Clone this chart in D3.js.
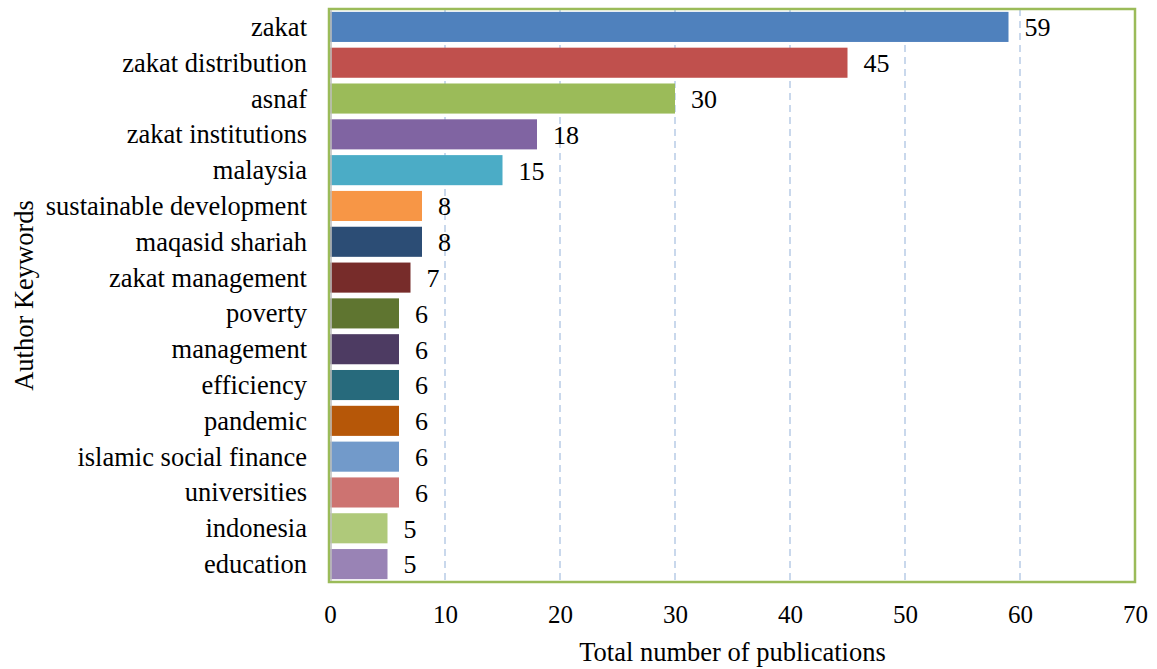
<!DOCTYPE html>
<html><head><meta charset="utf-8">
<script src="https://cdn.jsdelivr.net/npm/d3@7"></script>
<style>body{margin:0;background:#fff;} svg{display:block;}</style>
</head><body>
<svg id="c" width="1157" height="669"></svg>
<script>
const keywords = ["zakat","zakat distribution","asnaf","zakat institutions","malaysia","sustainable development","maqasid shariah","zakat management","poverty","management","efficiency","pandemic","islamic social finance","universities","indonesia","education"];
const counts = [59,45,30,18,15,8,8,7,6,6,6,6,6,6,5,5];
const colors = ["#4F81BD","#C0504D","#9BBB59","#8064A2","#4BACC6","#F79646","#2C4D75","#772C2A","#5F7530","#4D3B62","#276A7C","#B65708","#729ACA","#CD7371","#AFC97A","#9983B5"];
const xTicks = [0,10,20,30,40,50,60,70];

const svg = d3.select("#c");
const font = "'Liberation Serif','Times New Roman',serif";
const L = 330, R = 1135, T = 9, B = 582;
const x = d3.scaleLinear().domain([0,70]).range([L,R]);
const y = d3.scaleBand().domain(keywords).range([T,B]).paddingInner(0.16).paddingOuter(0.08);

// gridlines
svg.append("g").selectAll("line").data(xTicks.filter(t=>t>0&&t<70)).join("line")
  .attr("x1",d=>x(d)).attr("x2",d=>x(d)).attr("y1",T).attr("y2",B)
  .attr("stroke","#B8CCE6").attr("stroke-width",1.5).attr("stroke-dasharray","7,5");

// bars
svg.append("g").selectAll("rect").data(keywords).join("rect")
  .attr("x",x(0)).attr("y",d=>y(d)).attr("height",y.bandwidth())
  .attr("width",(d,i)=>x(counts[i])-x(0)).attr("fill",(d,i)=>colors[i]);

// frame
svg.append("rect").attr("x",L-1).attr("y",T).attr("width",R-L+1).attr("height",B-T)
  .attr("fill","none").attr("stroke","#9BBB59").attr("stroke-width",2.5);
svg.append("line").attr("x1",L+1).attr("x2",L+1).attr("y1",T+1).attr("y2",B-1)
  .attr("stroke","#BFBFBF").attr("stroke-width",1.5);

// value labels
svg.append("g").selectAll("text").data(keywords).join("text")
  .attr("x",(d,i)=>x(counts[i])+16).attr("y",d=>y(d)+y.bandwidth()/2)
  .attr("dy","0.36em").attr("font-family",font).attr("font-size",26).attr("fill","#000")
  .text((d,i)=>counts[i]);

// y axis labels
const yAxis = d3.axisLeft(y).tickSize(0).tickPadding(23);
const gy = svg.append("g").attr("transform",`translate(${L},0)`).call(yAxis);
gy.select(".domain").remove();
gy.selectAll("text").attr("font-family",font).attr("font-size",26.5).attr("fill","#000").attr("dy","0.34em");

// x axis labels
const xAxis = d3.axisBottom(x).tickValues(xTicks).tickSize(0).tickPadding(0);
const gx = svg.append("g").attr("transform",`translate(0,${B})`).call(xAxis);
gx.select(".domain").remove();
gx.selectAll("text").attr("font-family",font).attr("font-size",25).attr("fill","#000")
  .attr("y",41).attr("dy",0);

// titles
svg.append("text").attr("x",(L+R)/2).attr("y",661).attr("text-anchor","middle")
  .attr("font-family",font).attr("font-size",26.5).text("Total number of publications");
svg.append("text").attr("transform",`translate(33,${(T+B)/2}) rotate(-90)`).attr("text-anchor","middle")
  .attr("font-family",font).attr("font-size",26.5).text("Author Keywords");
</script>
</body></html>
